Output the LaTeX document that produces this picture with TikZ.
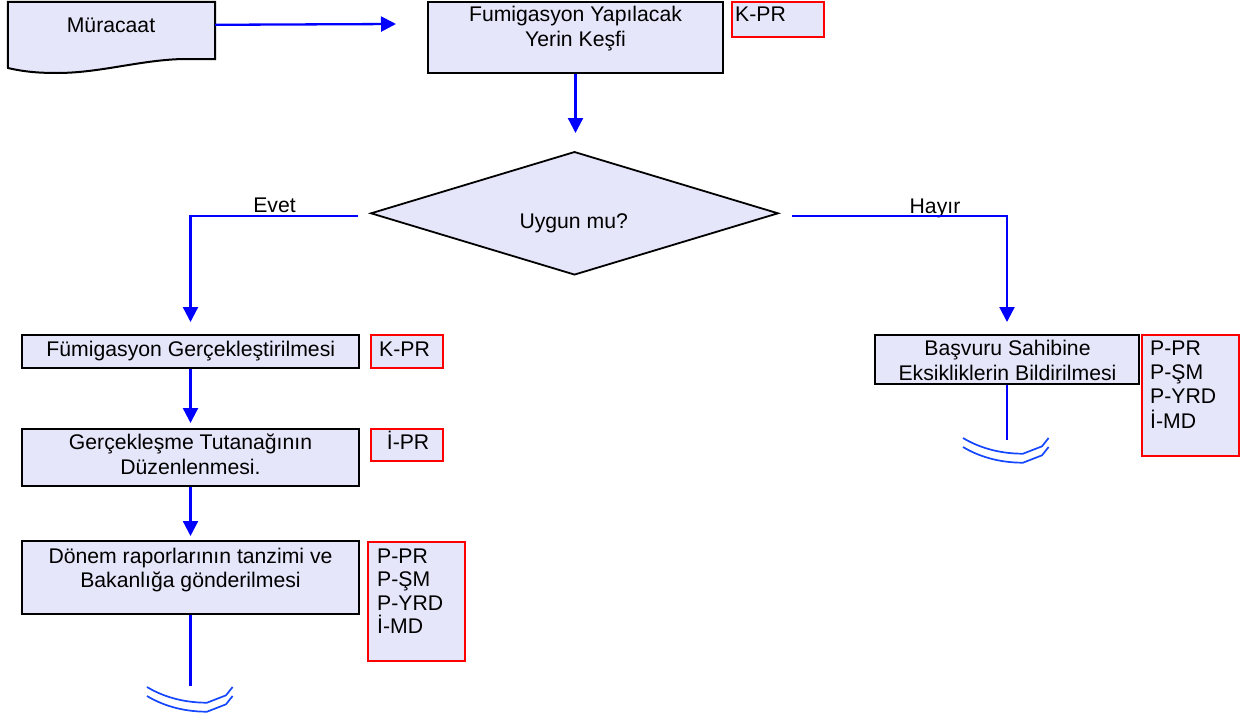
\documentclass[tikz,border=0pt]{standalone}
\usepackage{fontspec}
\setmainfont{Liberation Sans}
\usetikzlibrary{arrows.meta,shapes.geometric,calc}
\definecolor{lav}{RGB}{230,230,250}
\definecolor{arcblue}{RGB}{20,70,255}
\begin{document}
\begin{tikzpicture}[x=1pt,y=-1pt,
  box/.style={draw=black,line width=2pt,fill=lav,rectangle,inner sep=0pt},
  rbox/.style={draw=red,line width=2pt,fill=lav,rectangle,inner sep=0pt},
  ghost/.style={rectangle,inner sep=0pt,draw=none},
  dec/.style={diamond,draw=black,line width=1.8pt,fill=lav,inner sep=0pt,aspect=1},
  arr/.style={draw=blue,line width=2.3pt,-{Triangle[length=15pt,width=15pt]}},
  conn/.style={draw=blue,line width=2.3pt},
  txt/.style={inner sep=0pt,anchor=base,font=\fontsize{21.2}{24}\selectfont},
  ltxt/.style={txt,anchor=base west},
  endsym/.pic={
    \draw[arcblue,line width=1.7pt] (0,0) .. controls (15,9) and (35,15.7) .. (60,15.7) -- (79,8.3) -- (85.6,0);
    \draw[arcblue,line width=1.7pt] (0,9) .. controls (15,18) and (35,24.7) .. (60,24.7) -- (79,17.3) -- (85.6,9);
  }]
\useasboundingbox (0,0) rectangle (1257,720);

% document shape
\node[ghost,minimum width=207pt,minimum height=57pt] (doc) at (111.5,30.5) {};
\draw[black,line width=2pt,fill=lav] (doc.north west) -- (doc.north east) -- (doc.south east) -- (183,59)
  .. controls (140,60) and (100,73) .. (57,73) .. controls (40,73) and (25,72) .. (8,68) -- cycle;
\node[txt] (tmur) at (111,32.3) {Müracaat};

% boxes
\node[box,minimum width=295pt,minimum height=71pt] (kesif) at (575.5,37.5) {};
\node[rbox,minimum width=92pt,minimum height=35pt] (kpr1) at (778,19.5) {};
\node[dec,minimum width=407.6pt,minimum height=123.3pt] (dia) at (574.5,213.3) {};

\node[box,minimum width=337pt,minimum height=33pt] (b1) at (190.5,351.5) {};
\node[rbox,minimum width=72pt,minimum height=33pt] (r1) at (407,351.5) {};
\node[box,minimum width=337pt,minimum height=57pt] (b2) at (190.5,457.5) {};
\node[rbox,minimum width=72pt,minimum height=32pt] (r2) at (407,445) {};
\node[box,minimum width=337pt,minimum height=73pt] (b3) at (190.5,577.5) {};
\node[rbox,minimum width=97pt,minimum height=119pt] (r3) at (416.5,601.5) {};

\node[box,minimum width=264pt,minimum height=49pt] (bR) at (1007,359.5) {};
\node[rbox,minimum width=97pt,minimum height=121pt] (rR) at (1190.5,395.5) {};

% texts
\node[txt] (tk1) at (575.5,21.7) {Fumigasyon Yapılacak};
\node[txt] (tk2) at (575.5,46.7) {Yerin Keşfi};
\node[ltxt] (tkpr1) at (735,21.7) {K-PR};
\node[txt] (tdia) at (573.7,228.3) {Uygun mu?};
\node[txt] (tevet) at (274.5,212.7) {Evet};
\node[txt] (thayir) at (935,213) {Hayır};

\node[txt] (tb1) at (190.8,356) {Fümigasyon Gerçekleştirilmesi};
\node[ltxt] (tr1) at (379,356) {K-PR};
\node[txt] (tb2a) at (190.5,449) {Gerçekleşme Tutanağının};
\node[txt] (tb2b) at (190.5,474) {Düzenlenmesi.};
\node[ltxt] (tr2) at (386.7,449) {İ-PR};
\node[txt] (tb3a) at (190.5,563) {Dönem raporlarının tanzimi ve};
\node[txt] (tb3b) at (190.5,587) {Bakanlığa gönderilmesi};
\node[ltxt] (tr3a) at (377,563) {P-PR};
\node[ltxt] (tr3b) at (377,586.5) {P-ŞM};
\node[ltxt] (tr3c) at (377,610) {P-YRD};
\node[ltxt] (tr3d) at (377,633.5) {İ-MD};

\node[txt] (tbRa) at (1007.5,355) {Başvuru Sahibine};
\node[txt] (tbRb) at (1007.5,380) {Eksikliklerin Bildirilmesi};
\node[ltxt] (trRa) at (1150,355) {P-PR};
\node[ltxt] (trRb) at (1150,379.3) {P-ŞM};
\node[ltxt] (trRc) at (1150,403.6) {P-YRD};
\node[ltxt] (trRd) at (1150,428) {İ-MD};

% connectors
\draw[arr] ($(doc.north east)+(0,23)$) -- ($(kesif.north west)+(-31,23)$);
\draw[arr] (kesif.south) -- ++(0,59);
\draw[arr] ($(dia.west)+(-12,3)$) -| ($(b1.north)+(0,-12)$);
\draw[arr] ($(dia.east)+(13,3)$) -| ($(bR.north)+(0,-12)$);
\draw[arr] (b1.south) -- ($(b2.north)+(0,-5)$);
\draw[arr] (b2.south) -- ($(b3.north)+(0,-4)$);
\coordinate (e1) at ($(b3.south)+(0,71)$);
\coordinate (e2) at ($(bR.south)+(0,55)$);
\draw[conn] (b3.south) -- (e1);
\draw[conn] (bR.south) -- (e2);
\pic at ($(e1)+(-43.5,1)$) {endsym};
\pic at ($(e2)+(-44,-2)$) {endsym};
\end{tikzpicture}
\end{document}
